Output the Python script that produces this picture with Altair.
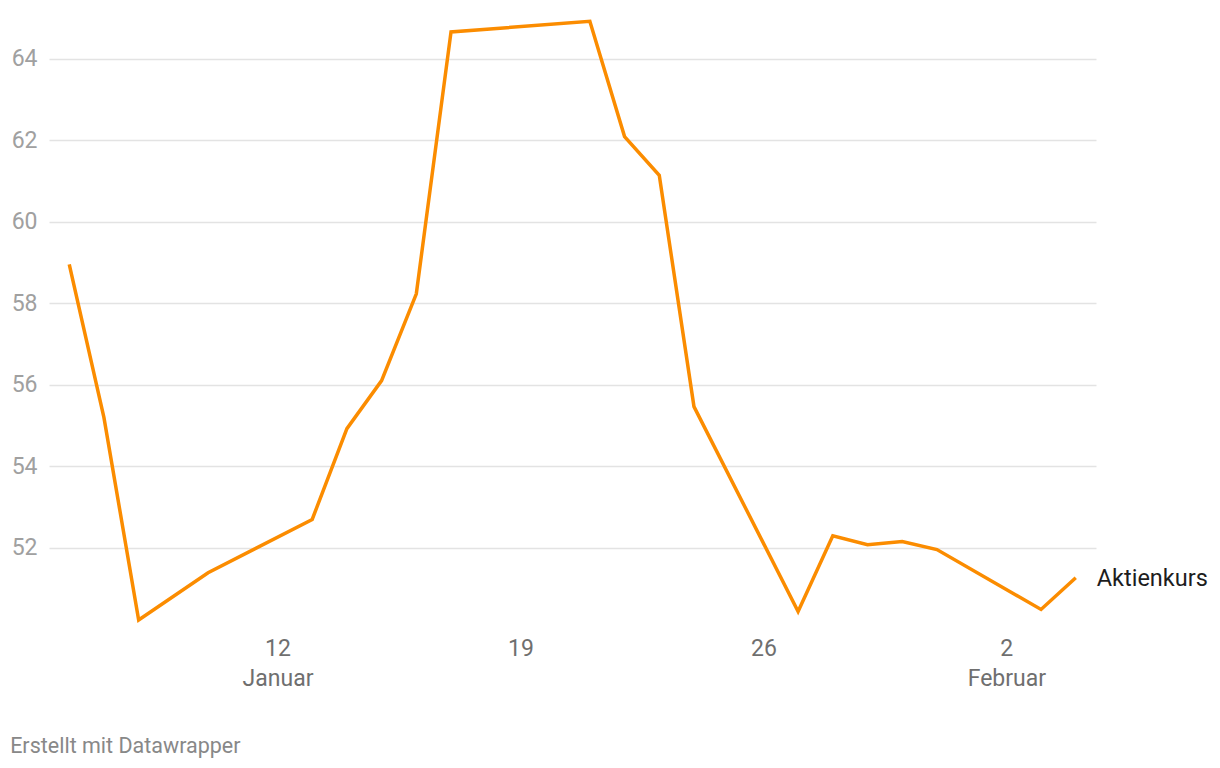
import altair as alt
import pandas as pd

dates = ["2025-01-06", "2025-01-07", "2025-01-08", "2025-01-10", "2025-01-13",
         "2025-01-14", "2025-01-15", "2025-01-16", "2025-01-17", "2025-01-21",
         "2025-01-22", "2025-01-23", "2025-01-24", "2025-01-27", "2025-01-28",
         "2025-01-29", "2025-01-30", "2025-01-31", "2025-02-03", "2025-02-04"]
values = [58.95, 55.19, 50.22, 51.38, 52.69, 54.92, 56.10, 58.23, 64.66, 64.92,
          62.09, 61.14, 55.46, 50.43, 52.29, 52.07, 52.15, 51.95, 50.48, 51.26]
series_name = "Aktienkurs"

y_ticks = [52, 54, 56, 58, 60, 62, 64]
x_tick_dates = [(2025, 1, 12), (2025, 1, 19), (2025, 1, 26), (2025, 2, 2)]
x_tick_labels = [["12", "Januar"], ["19"], ["26"], ["2", "Februar"]]

df = pd.DataFrame({"date": dates, "value": values, "series": series_name})
df["date"] = df["date"] + "T00:00:00Z"

# label expression built from tick label lists
expr = "''"
for (yy, mm, dd), lab in reversed(list(zip(x_tick_dates, x_tick_labels))):
    arr = "[" + ",".join("'" + s + "'" for s in lab) + "]"
    expr = f"(utcmonth(datum.value)=={mm-1} && utcdate(datum.value)=={dd}) ? {arr} : {expr}"

FONT = "Roboto"

x_enc = alt.X(
    "date:T",
    scale=alt.Scale(
        type="utc",
        domain=[alt.DateTime(year=2025, month=1, date=5, hours=10, utc=True),
                alt.DateTime(year=2025, month=2, date=4, hours=14, utc=True)],
    ),
    axis=alt.Axis(
        title=None,
        values=[alt.DateTime(year=y, month=m, date=d, utc=True) for (y, m, d) in x_tick_dates],
        labelExpr=expr,
        grid=False,
        domain=False,
        ticks=False,
        labelPadding=8,
        labelFontSize=23,
        labelLineHeight=30,
        labelColor="#6f6f6f",
        labelFont=FONT,
    ),
)
y_enc = alt.Y(
    "value:Q",
    scale=alt.Scale(domain=[50.0, 65.05], nice=False, zero=False),
    axis=alt.Axis(
        title=None,
        values=y_ticks,
        grid=True,
        gridColor="#e3e3e3",
        gridWidth=1.5,
        domain=False,
        ticks=False,
        labelPadding=12,
        labelFontSize=23,
        labelColor="#a0a0a0",
        labelFont=FONT,
    ),
)

base = alt.Chart(df)

line = base.mark_line(color="#fb8c00", strokeWidth=3.5, strokeJoin="miter").encode(
    x=x_enc, y=y_enc
)

label = base.transform_joinaggregate(
    lastdate="max(date)"
).transform_filter(
    "time(datum.date) == time(datum.lastdate)"
).mark_text(
    align="left", baseline="middle", dx=21, dy=1, fontSize=23.5, font=FONT, color="#1d1d1d"
).encode(x=x_enc, y=y_enc, text="series:N")

chart = alt.layer(line, label).properties(
    width=1047,
    height=613,
    background="white",
    autosize=alt.AutoSizeParams(type="none"),
    padding={"left": 41, "top": 8, "right": 116, "bottom": 131},
    title=alt.TitleParams(
        "Erstellt mit Datawrapper",
        orient="bottom",
        anchor="start",
        frame="bounds",
        fontSize=21.5,
        fontWeight="normal",
        font=FONT,
        color="#888888",
        offset=46,
        dx=-1,
    ),
).configure_view(stroke="transparent", strokeWidth=0)

chart.save("out.html", embed_options={"renderer": "svg", "actions": False})
